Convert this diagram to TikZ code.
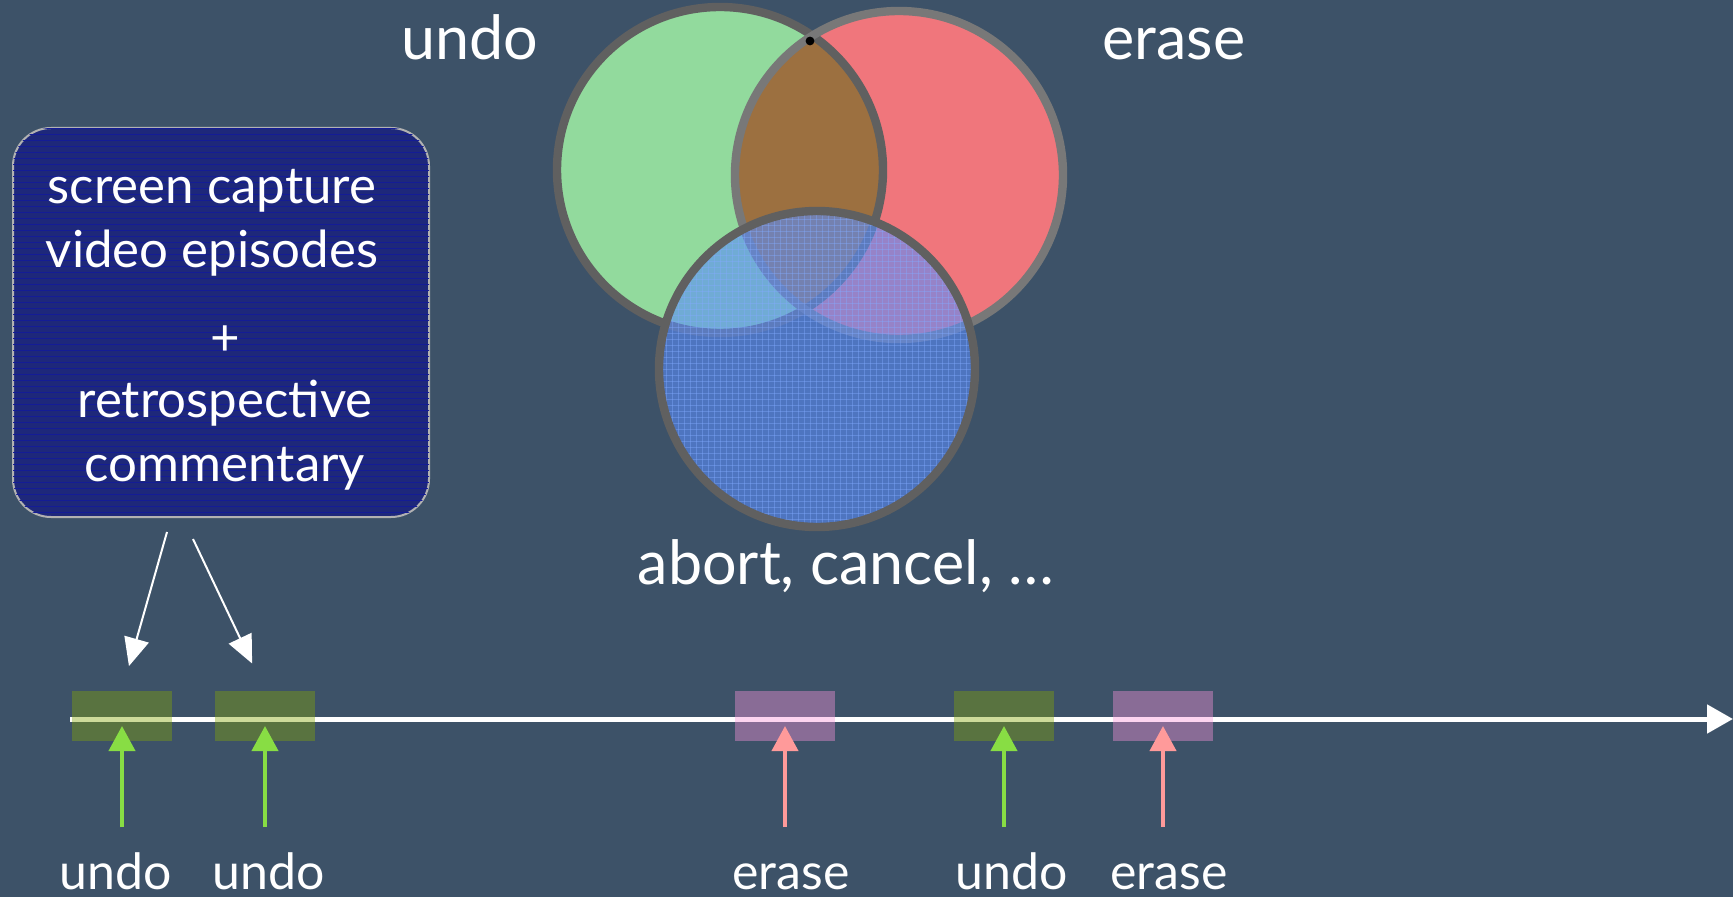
\documentclass[tikz,border=0pt]{standalone}
\usepackage{fontspec}
\setmainfont{Lato}
\usetikzlibrary{arrows.meta,positioning,patterns}
\definecolor{slate}{RGB}{61,82,104}
\definecolor{navy}{RGB}{30,40,122}
\definecolor{navyline}{RGB}{20,28,150}
\definecolor{setgray}{RGB}{96,96,96}
\definecolor{undogreen}{RGB}{146,218,157}
\definecolor{erasered}{RGB}{240,118,124}
\definecolor{bothbrown}{RGB}{156,112,64}
\definecolor{abortblue}{RGB}{90,141,251}
\definecolor{gridblue}{RGB}{130,170,255}
\definecolor{evgreen}{RGB}{132,166,4}
\definecolor{evpink}{RGB}{252,148,219}
\definecolor{arrowgreen}{RGB}{136,221,68}
\definecolor{arrowpink}{RGB}{255,154,154}
\tikzset{
  ev/box/.style={draw=black!30, line width=1pt, rounded corners=19pt, fill=navy,
    minimum width=208pt, minimum height=194.5pt},
  ev/boxtext/.style={align=center, text=white, inner sep=0pt,
    font=\fontsize{25.5}{32}\selectfont},
  ev/label/.style={text=white, inner sep=0pt, anchor=base},
  ev/big/.style={ev/label, font=\fontsize{30.5}{36}\selectfont},
  ev/small/.style={ev/label, font=\fontsize{25}{30}\selectfont},
  ev/event/.style={minimum width=50pt, minimum height=25pt, inner sep=0pt},
  ev/undo/.style={ev/event, fill=evgreen, fill opacity=0.4},
  ev/erase/.style={ev/event, fill=evpink, fill opacity=0.4},
  ev/axis/.style={white, line width=2.5pt, -{Triangle[length=13pt,width=14pt]}},
  ev/uparrow/.style={line width=2pt, -{Triangle[length=12.5pt,width=13pt]}, shorten >=5pt},
  ev/ptr/.style={white, line width=1pt, -{Triangle[length=14pt,width=12.5pt]}},
  ev/set/.style={draw=setgray, line width=4.2pt}
}
\begin{document}
\begin{tikzpicture}[x=0.5pt, y=-0.5pt]
  \path[use as bounding box, fill=slate] (0,0) rectangle (1733,897);

  % Venn diagram of the three categories
  \coordinate (gc) at (720,170);
  \coordinate (rc) at (899,175);
  \coordinate (bc) at (817,369);
  \fill[undogreen] (gc) circle[radius=81.5pt];
  \fill[erasered] (rc) circle[radius=82pt];
  \begin{scope}
    \clip (gc) circle[radius=81.5pt];
    \fill[bothbrown] (rc) circle[radius=82pt];
  \end{scope}
  \draw[ev/set] (gc) circle[radius=81.5pt];
  \draw[ev/set, draw=setgray!85!white] (rc) circle[radius=82pt];
  \fill[black] (810,41) circle[radius=2.2pt];
  \fill[abortblue, fill opacity=0.6] (bc) circle[radius=79pt];
  \fill[pattern=grid, pattern color=gridblue, opacity=0.4] (bc) circle[radius=79pt];
  \draw[ev/set] (bc) circle[radius=79pt];

  \node[ev/big] (undoset) at (470,60) {undo};
  \node[ev/big] (eraseset) at (1174,60) {erase};
  \node[ev/big] (abortset) at (846,584) {abort, cancel, \dots};

  % Data source
  \node[ev/box, postaction={pattern=horizontal lines, pattern color=navyline}] (src) at (221,322.5) {};
  \node[ev/boxtext] (srctext) at (225,330)
    {screen capture\rule{13pt}{0pt}\\video episodes\rule{13pt}{0pt}\\[12pt]+\\[-1pt]retrospective\\commentary};

  % Timeline with events
  \coordinate (t0) at (70,719);
  \coordinate (tend) at (1733,719);
  \draw[ev/axis] (t0) -- (tend);

  \node[ev/undo] (ev1) at (122,716) {};
  \node[ev/undo] (ev2) at (265,716) {};
  \node[ev/erase] (ev3) at (785,716) {};
  \node[ev/undo] (ev4) at (1004,716) {};
  \node[ev/erase] (ev5) at (1163,716) {};

  \coordinate (p1) at (167,532);
  \coordinate (p2) at (193,539);
  \draw[ev/ptr, shorten >=12.75pt] (p1) -- (ev1.north);
  \draw[ev/ptr, shorten >=15pt] (p2) -- (ev2.north);

  % Event labels
  \node[ev/small] (lab1) at (116,889) {undo};
  \node[ev/small] (lab2) at (269,889) {undo};
  \node[ev/small] (lab3) at (791,889) {erase};
  \node[ev/small] (lab4) at (1012,889) {undo};
  \node[ev/small] (lab5) at (1169,889) {erase};

  \coordinate (u1) at (122,827);
  \coordinate (u2) at (265,827);
  \coordinate (u3) at (785,827);
  \coordinate (u4) at (1004,827);
  \coordinate (u5) at (1163,827);
  \draw[ev/uparrow, arrowgreen] (u1) -- (ev1.center);
  \draw[ev/uparrow, arrowgreen] (u2) -- (ev2.center);
  \draw[ev/uparrow, arrowpink] (u3) -- (ev3.center);
  \draw[ev/uparrow, arrowgreen] (u4) -- (ev4.center);
  \draw[ev/uparrow, arrowpink] (u5) -- (ev5.center);
\end{tikzpicture}
\end{document}
